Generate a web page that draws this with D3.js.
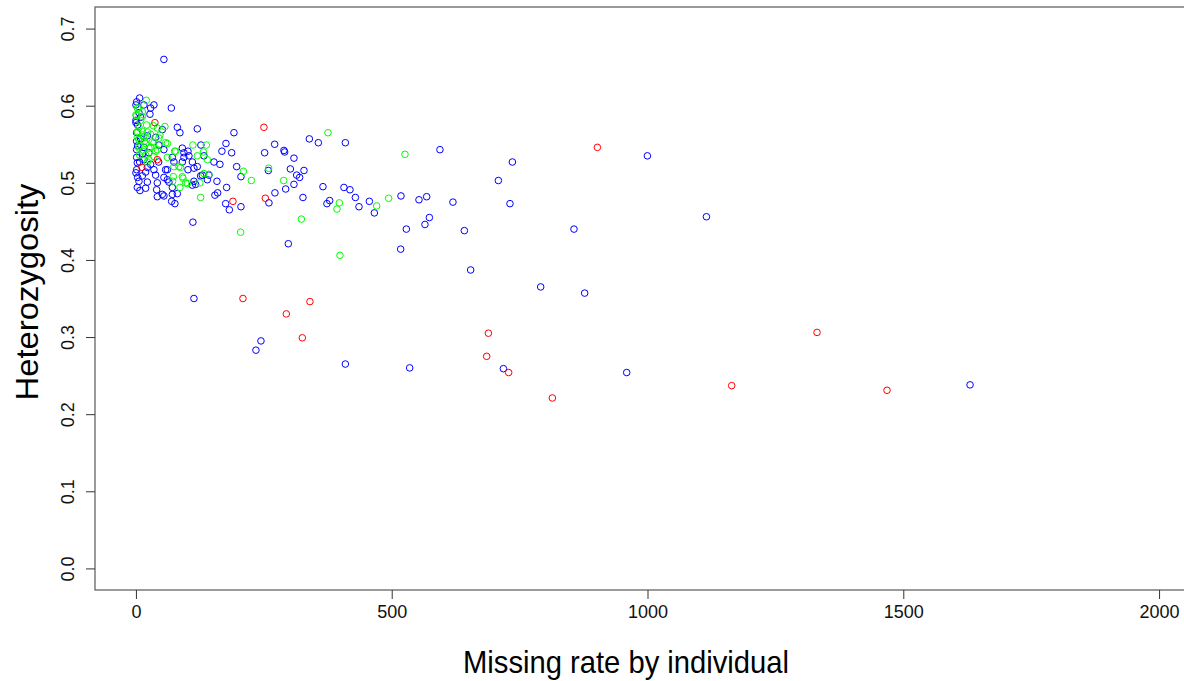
<!DOCTYPE html>
<html>
<head>
<meta charset="utf-8">
<script src="https://cdn.jsdelivr.net/npm/d3@7"></script>
<style>
  html, body { margin: 0; padding: 0; background: #fff; overflow: hidden; }
  svg { display: block; }
  text { font-family: "Liberation Sans", Arial, Helvetica, sans-serif; }
</style>
</head>
<body>
<svg id="chart" width="1184" height="681"></svg>
<script>
// ---------------- DATA ----------------
const xLabel = "Missing rate by individual";
const yLabel = "Heterozygosity";
const xTicks = [0, 500, 1000, 1500, 2000];
const xTickLabels = ["0", "500", "1000", "1500", "2000"];
const yTicks = [0, 0.1, 0.2, 0.3, 0.4, 0.5, 0.6, 0.7];
const yTickLabels = ["0.0", "0.1", "0.2", "0.3", "0.4", "0.5", "0.6", "0.7"];

// [missing, heterozygosity]
const bluePoints = [
  [54.7,0.660],
  [339,0.557],[356.6,0.552],[409.4,0.552],[594.3,0.543],[191.6,0.565],[271.2,0.550],[251.6,0.539],[289.3,0.542],[290.7,0.540],
  [308.9,0.532],[176,0.551],[168.1,0.541],[187.1,0.539],[164.2,0.524],[152.5,0.527],[196.9,0.521],[205.3,0.508],[258.8,0.516],
  [301.9,0.518],[328.5,0.516],[314.2,0.510],[320,0.507],[308.9,0.498],[292.7,0.492],[271.7,0.487],[260,0.474],[175.4,0.473],
  [182.6,0.465],[205.3,0.469],[177.3,0.494],[158.4,0.502],[159.7,0.487],[154.4,0.484],[111.4,0.449],[297.9,0.421],[326.5,0.481],
  [365.6,0.495],[406.6,0.494],[418.4,0.491],[429,0.481],[378.7,0.477],[373.4,0.473],[436,0.469],[456.3,0.476],[466.1,0.461],
  [518.1,0.483],[553.3,0.478],[568.3,0.482],[573.6,0.455],[565,0.446],[528.6,0.440],[517.5,0.414],[113.4,0.350],[244.4,0.295],
  [234.6,0.283],[409.4,0.265],[535.1,0.260],
  [735.9,0.527],[708.5,0.503],[619.7,0.475],[731.2,0.473],[999.8,0.535],[1115.2,0.456],[642,0.438],[856.3,0.440],[654.3,0.387],
  [791.2,0.365],[877.2,0.357],[718.3,0.259],[959.3,0.254],[1630.5,0.238],
  [7.2,0.610],[1.4,0.605],[0,0.601],[15.6,0.601],[35.2,0.601],[69.2,0.597],[28.7,0.597],[5.9,0.591],[27.4,0.589],[9.2,0.585],
  [0,0.578],[51.6,0.569],[80.9,0.572],[86,0.565],[120,0.570],[1.4,0.565],[22.3,0.561],[38.5,0.559],[1.4,0.554],[45,0.549],
  [15.6,0.546],[1.4,0.543],[25.4,0.539],[54.7,0.543],[90.7,0.545],[101.7,0.541],[103.6,0.535],[132.9,0.535],[71.2,0.533],
  [93.8,0.533],[1.4,0.533],[15.6,0.530],[2.7,0.526],[74.3,0.527],[90.7,0.527],[110.3,0.527],[120,0.521],[22.3,0.520],[1.4,0.517],
  [35.2,0.517],[61.4,0.517],[101.7,0.517],[142.7,0.510],[126.5,0.509],[0,0.513],[12.5,0.509],[38.5,0.510],[54.7,0.507],[5.9,0.502],
  [22.3,0.501],[64.5,0.501],[116.7,0.498],[139.6,0.504],[2.7,0.494],[19,0.493],[71.2,0.494],[7.8,0.490],[40.5,0.491],[51.6,0.485],
  [54.7,0.483],[71.2,0.485],[80.9,0.486],[69.8,0.476],[76.2,0.473],[113.4,0.502],[110.3,0.497],[61.4,0.504],[41.8,0.482],[41.8,0.500],
  [0,0.581],[3.3,0.575],[9.2,0.557],[3.3,0.548],[13,0.538],[7.2,0.527],[19,0.514],[3.3,0.507],[28.7,0.524],[44.4,0.527],[58,0.517],
  [127,0.549],[93.8,0.539],[113.4,0.519],[129.8,0.510]
];
const greenPoints = [
  [375.4,0.565],[525.9,0.537],[210,0.515],[225.6,0.503],[259.4,0.519],[288.8,0.503],[204.7,0.436],[323.4,0.453],[397.6,0.474],
  [393,0.466],[470.6,0.470],[494,0.480],[398.8,0.406],[126.5,0.481],
  [20.3,0.607],[2.7,0.597],[12.5,0.592],[1.4,0.587],[34,0.574],[56.7,0.573],[5.9,0.572],[12.5,0.567],[2.7,0.559],[28.7,0.563],
  [46.9,0.562],[17,0.554],[35.2,0.552],[58.1,0.552],[5.9,0.548],[28.7,0.546],[12.5,0.541],[38.5,0.541],[75.7,0.541],[111.4,0.549],
  [137.6,0.549],[120,0.535],[139.6,0.530],[61.4,0.533],[25.4,0.530],[87.4,0.520],[74.3,0.521],[132.9,0.512],[73.1,0.508],[90.7,0.508],
  [100.5,0.499],[125.1,0.500],[86,0.494],[131.8,0.540],[142.7,0.511],[97.2,0.500],[91.9,0.506],[71.7,0.502],
  [9.2,0.581],[20.9,0.575],[7.2,0.536],[15,0.560],
  [5.9,0.597],[0,0.588],[12.5,0.586],[41.8,0.571],[2.7,0.566],[12.5,0.562],[22.3,0.566],[5.9,0.556],[19,0.551],[32,0.553],
  [45,0.558],[61.4,0.551],[5.9,0.545],[25.4,0.545],[41.8,0.543],[19,0.536],[35.2,0.534],[22.3,0.527],[77.6,0.541],[84,0.521]
];
const redPoints = [
  [250.2,0.572],[37.1,0.578],[41.8,0.530],[11.7,0.520],[189.6,0.476],[253,0.480],[209.2,0.350],[340.2,0.346],[294,0.330],
  [325.3,0.299],[902,0.546],[689,0.305],[685.6,0.275],[728.6,0.254],[814,0.221],[1164.6,0.237],[1331.4,0.306],[1468.2,0.231]
];
const series = [
  { name: "blue",  color: "#0000FF", points: bluePoints },
  { name: "green", color: "#00FF00", points: greenPoints },
  { name: "red",   color: "#FF0000", points: redPoints }
];

// ---------------- LAYOUT ----------------
const plotLeft = 95, plotRight = 1200, plotTop = 7, plotBottom = 590;
const svg = d3.select("#chart");

const x = d3.scaleLinear().domain([-80, 2080]).range([plotLeft, plotRight]);
const y = d3.scaleLinear().domain([-0.028, 0.728]).range([plotBottom, plotTop]);

// points
const g = svg.append("g");
series.forEach(s => {
  g.selectAll(null)
    .data(s.points)
    .enter()
    .append("circle")
    .attr("cx", d => x(d[0]))
    .attr("cy", d => y(d[1]))
    .attr("r", 3.3)
    .attr("fill", "none")
    .attr("stroke", s.color)
    .attr("stroke-width", 1);
});

// box
svg.append("rect")
  .attr("x", plotLeft).attr("y", plotTop)
  .attr("width", plotRight - plotLeft).attr("height", plotBottom - plotTop)
  .attr("fill", "none").attr("stroke", "#666").attr("stroke-width", 1.3);

// x axis
const xAxis = d3.axisBottom(x).tickValues(xTicks)
  .tickFormat((d, i) => xTickLabels[i]).tickSize(9).tickPadding(6);
const gx = svg.append("g").attr("transform", `translate(0,${plotBottom})`).call(xAxis);
gx.select(".domain").remove();
gx.selectAll(".tick line").attr("stroke", "#333");
gx.selectAll(".tick text").attr("font-size", 18).attr("fill", "#111")
  .attr("font-family", '"Liberation Sans", Arial, sans-serif');

// y axis
const yAxis = d3.axisLeft(y).tickValues(yTicks)
  .tickFormat((d, i) => yTickLabels[i]).tickSize(9).tickPadding(6);
const gy = svg.append("g").attr("transform", `translate(${plotLeft},0)`).call(yAxis);
gy.select(".domain").remove();
gy.selectAll(".tick line").attr("stroke", "#333");
gy.selectAll(".tick text")
  .attr("font-size", 18).attr("fill", "#111")
  .attr("font-family", '"Liberation Sans", Arial, sans-serif')
  .attr("x", null).attr("dy", null)
  .attr("text-anchor", "middle")
  .attr("transform", "translate(-21,0) rotate(-90)");

// axis titles
svg.append("text")
  .attr("x", 626).attr("y", 673)
  .attr("text-anchor", "middle")
  .attr("font-size", 32)
  .attr("textLength", 326).attr("lengthAdjust", "spacingAndGlyphs")
  .attr("fill", "#000")
  .text(xLabel);

svg.append("text")
  .attr("transform", "translate(38,292) rotate(-90)")
  .attr("text-anchor", "middle")
  .attr("font-size", 32)
  .attr("textLength", 217).attr("lengthAdjust", "spacingAndGlyphs")
  .attr("fill", "#000")
  .text(yLabel);
</script>
</body>
</html>
